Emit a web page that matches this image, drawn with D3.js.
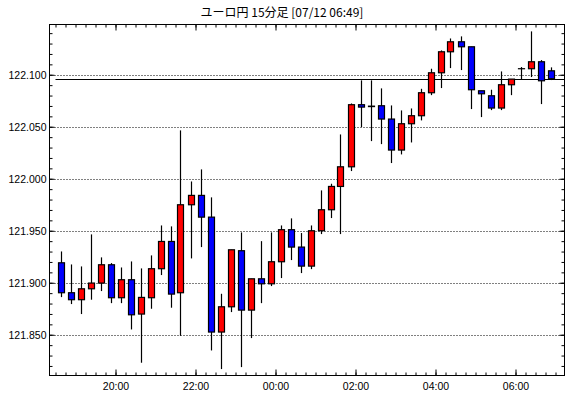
<!DOCTYPE html>
<meta charset="utf-8">
<style>
body { margin: 0; background: #fff; }
.axis .domain { display: none; }
.axis line { stroke: #000; }
.axis text { font-family: "Liberation Sans", Arial, sans-serif; font-size: 10.5px; fill: #000; }
</style>
<svg width="570" height="398"></svg>
<script src="https://d3js.org/d3.v7.min.js"></script>
<script>

// 15 minute candles, 07/11 18:30 -> 07/12 06:45
var times = ["18:30","18:45","19:00","19:15","19:30","19:45","20:00","20:15","20:30","20:45",
  "21:00","21:15","21:30","21:45","22:00","22:15","22:30","22:45","23:00","23:15",
  "23:30","23:45","00:00","00:15","00:30","00:45","01:00","01:15","01:30","01:45",
  "02:00","02:15","02:30","02:45","03:00","03:15","03:30","03:45","04:00","04:15",
  "04:30","04:45","05:00","05:15","05:30","05:45","06:00","06:15","06:30","06:45"];

var opens = [121.9192,121.8904,121.8837,121.8942,121.8997,121.9173,121.8856,121.9029,121.8699,121.8856,
  121.9135,121.9397,121.8904,121.9750,121.9840,121.9631,121.8526,121.8769,121.9308,121.8737,
  121.9038,121.8990,121.9202,121.9510,121.9343,121.9160,121.9500,121.9702,121.9926,122.0115,
  122.0712,122.0698,122.0702,122.0574,122.0276,122.0529,122.0606,122.0827,122.1019,122.1221,
  122.1317,122.1269,122.0846,122.0798,122.0680,122.0904,122.1058,122.1058,122.1125,122.1038];

var highs = [121.9301,121.9176,121.9157,121.9465,121.9244,121.9189,121.9147,121.9205,121.9138,121.9263,
  121.9551,121.9542,122.0465,121.9974,122.0090,121.9821,121.8894,121.9317,121.9484,121.9038,
  121.9400,121.9484,121.9551,121.9619,121.9478,121.9551,121.9888,121.9952,122.0426,122.0724,
  122.0946,122.0946,122.0869,122.0705,122.0657,122.0676,122.0865,122.1058,122.1234,122.1349,
  122.1369,122.1269,122.0846,122.0856,122.1032,122.0958,122.1074,122.1417,122.1141,122.1071];

var lows = [121.8862,121.8795,121.8699,121.8837,121.8920,121.8804,121.8804,121.8551,121.8231,121.8750,
  121.9074,121.8760,121.8490,121.9234,121.9343,121.8349,121.8170,121.8718,121.8189,121.8468,
  121.8804,121.8968,121.9045,121.9218,121.9093,121.9131,121.9468,121.9622,121.9468,122.0074,
  122.0497,122.0362,122.0333,122.0151,122.0234,122.0349,122.0561,122.0804,122.0872,122.1064,
  122.1045,122.0670,122.0593,122.0660,122.0660,122.0804,122.0958,122.0978,122.0718,122.0949];

var closes = [121.8904,121.8837,121.8942,121.8997,121.9173,121.8856,121.9029,121.8692,121.8859,121.9135,
  121.9397,121.8891,121.9750,121.9840,121.9631,121.8526,121.8769,121.9317,121.8737,121.9038,
  121.8990,121.9202,121.9510,121.9343,121.9160,121.9500,121.9702,121.9926,122.0115,122.0712,
  122.0689,122.0694,122.0574,122.0276,122.0529,122.0606,122.0827,122.1019,122.1221,122.1317,
  122.1269,122.0856,122.0817,122.0680,122.0904,122.0958,122.1058,122.1125,122.0942,122.0962];

var yLabels = [121.850, 121.900, 121.950, 122.000, 122.050, 122.100];
var xLabels = ["20:00", "22:00", "00:00", "02:00", "04:00", "06:00"];
var title = "ユーロ円 15分足 [07/12 06:49]";

var svg = d3.select("svg"),
    plotL = 49.5, plotR = 564.5, plotT = 24.5, plotB = 375.5;

// times before noon belong to the next day
function toDate(s) {
  var p = s.split(":"), h = +p[0], m = +p[1];
  return new Date(2024, 6, h >= 12 ? 11 : 12, h, m);
}

var x = d3.scaleTime()
    .domain([new Date(2024, 6, 11, 18, 21), new Date(2024, 6, 12, 7, 13, 30)])
    .range([plotL, plotR]);

var y = d3.scaleLinear()
    .domain([121.8113, 122.1488])
    .range([375, 24]);

var data = times.map(function(t, i) {
  var d = toDate(t);
  return {t: d3.timeSecond.offset(d, 450), o: opens[i], h: highs[i], l: lows[i], c: closes[i]};
});

svg.append("text")
    .attr("x", 282)
    .attr("y", 17)
    .attr("text-anchor", "middle")
    .attr("font-family", "'Noto Sans CJK JP', sans-serif")
    .attr("font-size", 12)
    .text(title);

// grid
svg.append("g")
  .selectAll("line")
  .data(yLabels)
  .enter().append("line")
    .attr("x1", plotL + 5).attr("x2", plotR)
    .attr("y1", function(d) { return Math.round(y(d)) + 0.5; })
    .attr("y2", function(d) { return Math.round(y(d)) + 0.5; })
    .attr("stroke", "#000")
    .attr("stroke-dasharray", "1,2");

// axes
var minorX = x.ticks(d3.timeMinute.every(15)),
    majorX = xLabels.map(function(s) { return toDate(s); }),
    minorY = d3.range(121.82, 122.145, 0.01);

svg.append("g").attr("class", "axis")
    .attr("transform", "translate(0," + plotB + ")")
    .call(d3.axisBottom(x).tickValues(minorX).tickSize(-3).tickFormat(""));
svg.append("g").attr("class", "axis")
    .attr("transform", "translate(0," + plotB + ")")
    .call(d3.axisBottom(x).tickValues(majorX).tickSize(-6).tickPadding(7)
      .tickFormat(function(d, i) { return xLabels[i]; }));
svg.append("g").attr("class", "axis")
    .attr("transform", "translate(0," + plotT + ")")
    .call(d3.axisTop(x).tickValues(minorX).tickSize(-3).tickFormat(""));
svg.append("g").attr("class", "axis")
    .attr("transform", "translate(0," + plotT + ")")
    .call(d3.axisTop(x).tickValues(majorX).tickSize(-6).tickFormat(""));

svg.append("g").attr("class", "axis")
    .attr("transform", "translate(" + plotL + ",0)")
    .call(d3.axisLeft(y).tickValues(minorY).tickSize(-3).tickFormat(""));
svg.append("g").attr("class", "axis")
    .attr("transform", "translate(" + plotL + ",0)")
    .call(d3.axisLeft(y).tickValues(yLabels).tickSize(-5).tickPadding(3).tickFormat(d3.format(".3f")));
svg.append("g").attr("class", "axis")
    .attr("transform", "translate(" + plotR + ",0)")
    .call(d3.axisRight(y).tickValues(minorY).tickSize(-3).tickFormat(""));
svg.append("g").attr("class", "axis")
    .attr("transform", "translate(" + plotR + ",0)")
    .call(d3.axisRight(y).tickValues(yLabels).tickSize(-5).tickFormat(""));

// current price line
var last = closes[closes.length - 1];
svg.append("line")
    .attr("x1", x(toDate(times[0]))).attr("x2", plotR)
    .attr("y1", Math.round(y(last)) + 0.5).attr("y2", Math.round(y(last)) + 0.5)
    .attr("stroke", "#000");

// candles
var candle = svg.append("g")
  .selectAll("g")
  .data(data)
  .enter().append("g");

candle.append("line")
    .attr("x1", function(d) { return Math.round(x(d.t)) + 0.5; })
    .attr("x2", function(d) { return Math.round(x(d.t)) + 0.5; })
    .attr("y1", function(d) { return y(d.h); })
    .attr("y2", function(d) { return y(d.l); })
    .attr("stroke", "#000")
    .attr("stroke-width", 1.2);

candle.append("rect")
    .attr("x", function(d) { return Math.round(x(d.t)) - 2.5; })
    .attr("width", 6)
    .attr("y", function(d) { return y(Math.max(d.o, d.c)); })
    .attr("height", function(d) { return Math.max(Math.abs(y(d.o) - y(d.c)), 0.01); })
    .attr("fill", function(d) { return d.c >= d.o ? "#ff0000" : "#0000ff"; })
    .attr("stroke", "#000")
    .attr("stroke-width", 1.2);

// frame
svg.append("rect")
    .attr("x", plotL).attr("y", plotT)
    .attr("width", plotR - plotL).attr("height", plotB - plotT)
    .attr("fill", "none")
    .attr("stroke", "#000");

</script>
